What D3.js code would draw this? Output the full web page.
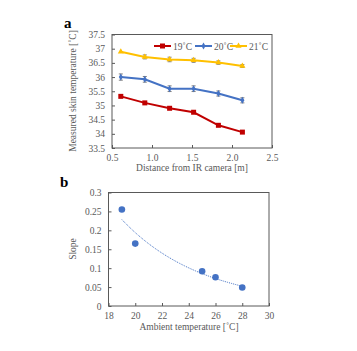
<!DOCTYPE html>
<html>
<head>
<meta charset="utf-8">
<script src="https://cdn.jsdelivr.net/npm/d3@7"></script>
<style>
  body { margin: 0; background: #fff; }
  svg text { font-family: "Liberation Serif", "Times New Roman", serif; fill: #595959; }
</style>
</head>
<body>
<div id="container"></div>
<script>
/* DATA */
const distances = [0.61, 0.91, 1.22, 1.52, 1.83, 2.13];
const temp19 = [35.32, 35.09, 34.90, 34.76, 34.30, 34.06];
const temp20 = [36.00, 35.92, 35.59, 35.59, 35.42, 35.18];
const temp21 = [36.89, 36.71, 36.62, 36.59, 36.51, 36.39];
const err19 = [0, 0, 0, 0, 0, 0];
const err20 = [0.11, 0.1, 0.1, 0.1, 0.09, 0.09];
const err21 = [0, 0.07, 0.08, 0.07, 0.06, 0.05];
const seriesNames = ["19˚C", "20˚C", "21˚C"];
const xTicksA = [0.5, 1.0, 1.5, 2.0, 2.5];
const yTicksA = [33.5, 34, 34.5, 35, 35.5, 36, 36.5, 37, 37.5];

const ambient = [19, 20, 25, 26, 28];
const slope = [0.255, 0.165, 0.092, 0.076, 0.049];
const xTicksB = [18, 20, 22, 24, 26, 28, 30];
const yTicksB = [0, 0.05, 0.1, 0.15, 0.2, 0.25, 0.3];

const width = 357, height = 351;
const colors = ["#C00000", "#4472C4", "#FFC000"];

const svg = d3.select("#container")
    .append("svg")
    .attr("width", width)
    .attr("height", height)

/* PANEL A */
const xA = d3.scaleLinear().domain([0.5, 2.5]).range([112, 272])
const yA = d3.scaleLinear().domain([33.5, 37.5]).range([148, 34.5])

const gA = svg.append("g")

// ticks pointing inside
gA.append("g")
    .attr("transform", `translate(0,148)`)
    .call(d3.axisBottom(xA).tickValues(xTicksA).tickFormat(d3.format(".1f")).tickSize(-3).tickPadding(6))
    .call(g => g.select(".domain").remove())
gA.append("g")
    .attr("transform", `translate(112,0)`)
    .call(d3.axisLeft(yA).tickValues(yTicksA).tickFormat(d => d).tickSize(-3).tickPadding(6))
    .call(g => g.select(".domain").remove())
gA.selectAll(".tick line").attr("stroke", "#595959")
gA.selectAll(".tick text").attr("font-size", 9.5).attr("fill", "#595959")
gA.selectAll("g.tick").filter(function () { return this.parentNode.getAttribute("transform") === "translate(112,0)"; })
    .select("text").attr("x", -7)

gA.append("rect")
    .attr("x", 112).attr("y", 34.5)
    .attr("width", 160).attr("height", 113.5)
    .attr("fill", "none").attr("stroke", "#595959").attr("stroke-width", 1)

const series = [temp19, temp20, temp21]
const errs = [err19, err20, err21]
const line = d3.line().x((d, i) => xA(distances[i])).y(d => yA(d))

series.forEach((s, k) => {
    // error bars
    s.forEach((v, i) => {
        const e = errs[k][i]
        if (e <= 0) return
        const x = xA(distances[i])
        gA.append("line").attr("x1", x).attr("x2", x).attr("y1", yA(v - e)).attr("y2", yA(v + e))
            .attr("stroke", "#7f7f7f").attr("stroke-width", 1)
        ;[v - e, v + e].forEach(w => {
            gA.append("line").attr("x1", x - 2).attr("x2", x + 2).attr("y1", yA(w)).attr("y2", yA(w))
                .attr("stroke", "#7f7f7f").attr("stroke-width", 1)
        })
    })
    gA.append("path")
        .datum(s)
        .attr("d", line)
        .attr("fill", "none")
        .attr("stroke", colors[k])
        .attr("stroke-width", 2)
})

function marker(g, k, x, y) {
    if (k === 0) {
        g.append("rect").attr("x", x - 2.5).attr("y", y - 2.5).attr("width", 5).attr("height", 5).attr("fill", colors[0])
    } else if (k === 1) {
        g.append("path").attr("d", d3.symbol(d3.symbolDiamond, 14)()).attr("transform", `translate(${x},${y})`).attr("fill", colors[1])
    } else {
        g.append("path").attr("d", d3.symbol(d3.symbolTriangle, 16)()).attr("transform", `translate(${x},${y})`).attr("fill", colors[2])
    }
}
series.forEach((s, k) => s.forEach((v, i) => marker(gA, k, xA(distances[i]), yA(v))))

// legend
const legendX = [154, 195, 230]
seriesNames.forEach((name, k) => {
    const lx = legendX[k]
    gA.append("line").attr("x1", lx).attr("x2", lx + 17).attr("y1", 46).attr("y2", 46)
        .attr("stroke", colors[k]).attr("stroke-width", 2)
    marker(gA, k, lx + 8.5, 46)
    gA.append("text").attr("x", lx + 19).attr("y", 49.5).attr("font-size", 9.5).text(name)
})

gA.append("text")
    .attr("x", 192).attr("y", 171)
    .attr("text-anchor", "middle").attr("font-size", 9.5)
    .text("Distance from IR camera [m]")
gA.append("text")
    .attr("transform", `translate(76,91) rotate(-90)`)
    .attr("text-anchor", "middle").attr("font-size", 9.5)
    .text("Measured skin temperature [˚C]")
gA.append("text")
    .attr("x", 64).attr("y", 28)
    .attr("font-size", 15).attr("font-weight", "bold").style("fill", "#000")
    .text("a")

/* PANEL B */
const xB = d3.scaleLinear().domain([18, 30]).range([108.5, 269])
const yB = d3.scaleLinear().domain([0, 0.3]).range([306, 192.5])

const gB = svg.append("g")
gB.append("g")
    .attr("class", "xb")
    .attr("transform", `translate(0,306)`)
    .call(d3.axisBottom(xB).tickValues(xTicksB).tickSize(-3).tickPadding(6))
    .call(g => g.select(".domain").remove())
gB.append("g")
    .attr("class", "yb")
    .attr("transform", `translate(108.5,0)`)
    .call(d3.axisLeft(yB).tickValues(yTicksB).tickFormat(d => d).tickSize(-3).tickPadding(6))
    .call(g => g.select(".domain").remove())
gB.selectAll(".tick line").attr("stroke", "#595959")
gB.selectAll(".tick text").attr("font-size", 9.5).attr("fill", "#595959")
gB.selectAll(".yb .tick text").attr("x", -7)

gB.append("rect")
    .attr("x", 108.5).attr("y", 192.5)
    .attr("width", 160.5).attr("height", 113.5)
    .attr("fill", "none").attr("stroke", "#595959").attr("stroke-width", 1)

// exponential trendline fitted from the points
const lnY = slope.map(Math.log)
const mx = d3.mean(ambient), my = d3.mean(lnY)
const b = d3.sum(ambient, (x, i) => (x - mx) * (lnY[i] - my)) / d3.sum(ambient, x => (x - mx) * (x - mx))
const a = Math.exp(my - b * mx)
const trendX = d3.range(19, 28.001, 0.1)
gB.append("path")
    .datum(trendX)
    .attr("d", d3.line().x(d => xB(d)).y(d => yB(a * Math.exp(b * d))))
    .attr("fill", "none")
    .attr("stroke", "#4472C4")
    .attr("stroke-width", 1)
    .attr("stroke-dasharray", "1,1")

gB.selectAll("circle")
    .data(ambient)
    .join("circle")
    .attr("cx", d => xB(d))
    .attr("cy", (d, i) => yB(slope[i]))
    .attr("r", 3.3)
    .attr("fill", "#4472C4")

gB.append("text")
    .attr("x", 189).attr("y", 330)
    .attr("text-anchor", "middle").attr("font-size", 9.5)
    .text("Ambient temperature [˚C]")
gB.append("text")
    .attr("transform", `translate(76,249) rotate(-90)`)
    .attr("text-anchor", "middle").attr("font-size", 9.5)
    .text("Slope")
gB.append("text")
    .attr("x", 60).attr("y", 187)
    .attr("font-size", 15).attr("font-weight", "bold").style("fill", "#000")
    .text("b")
</script>
</body>
</html>
